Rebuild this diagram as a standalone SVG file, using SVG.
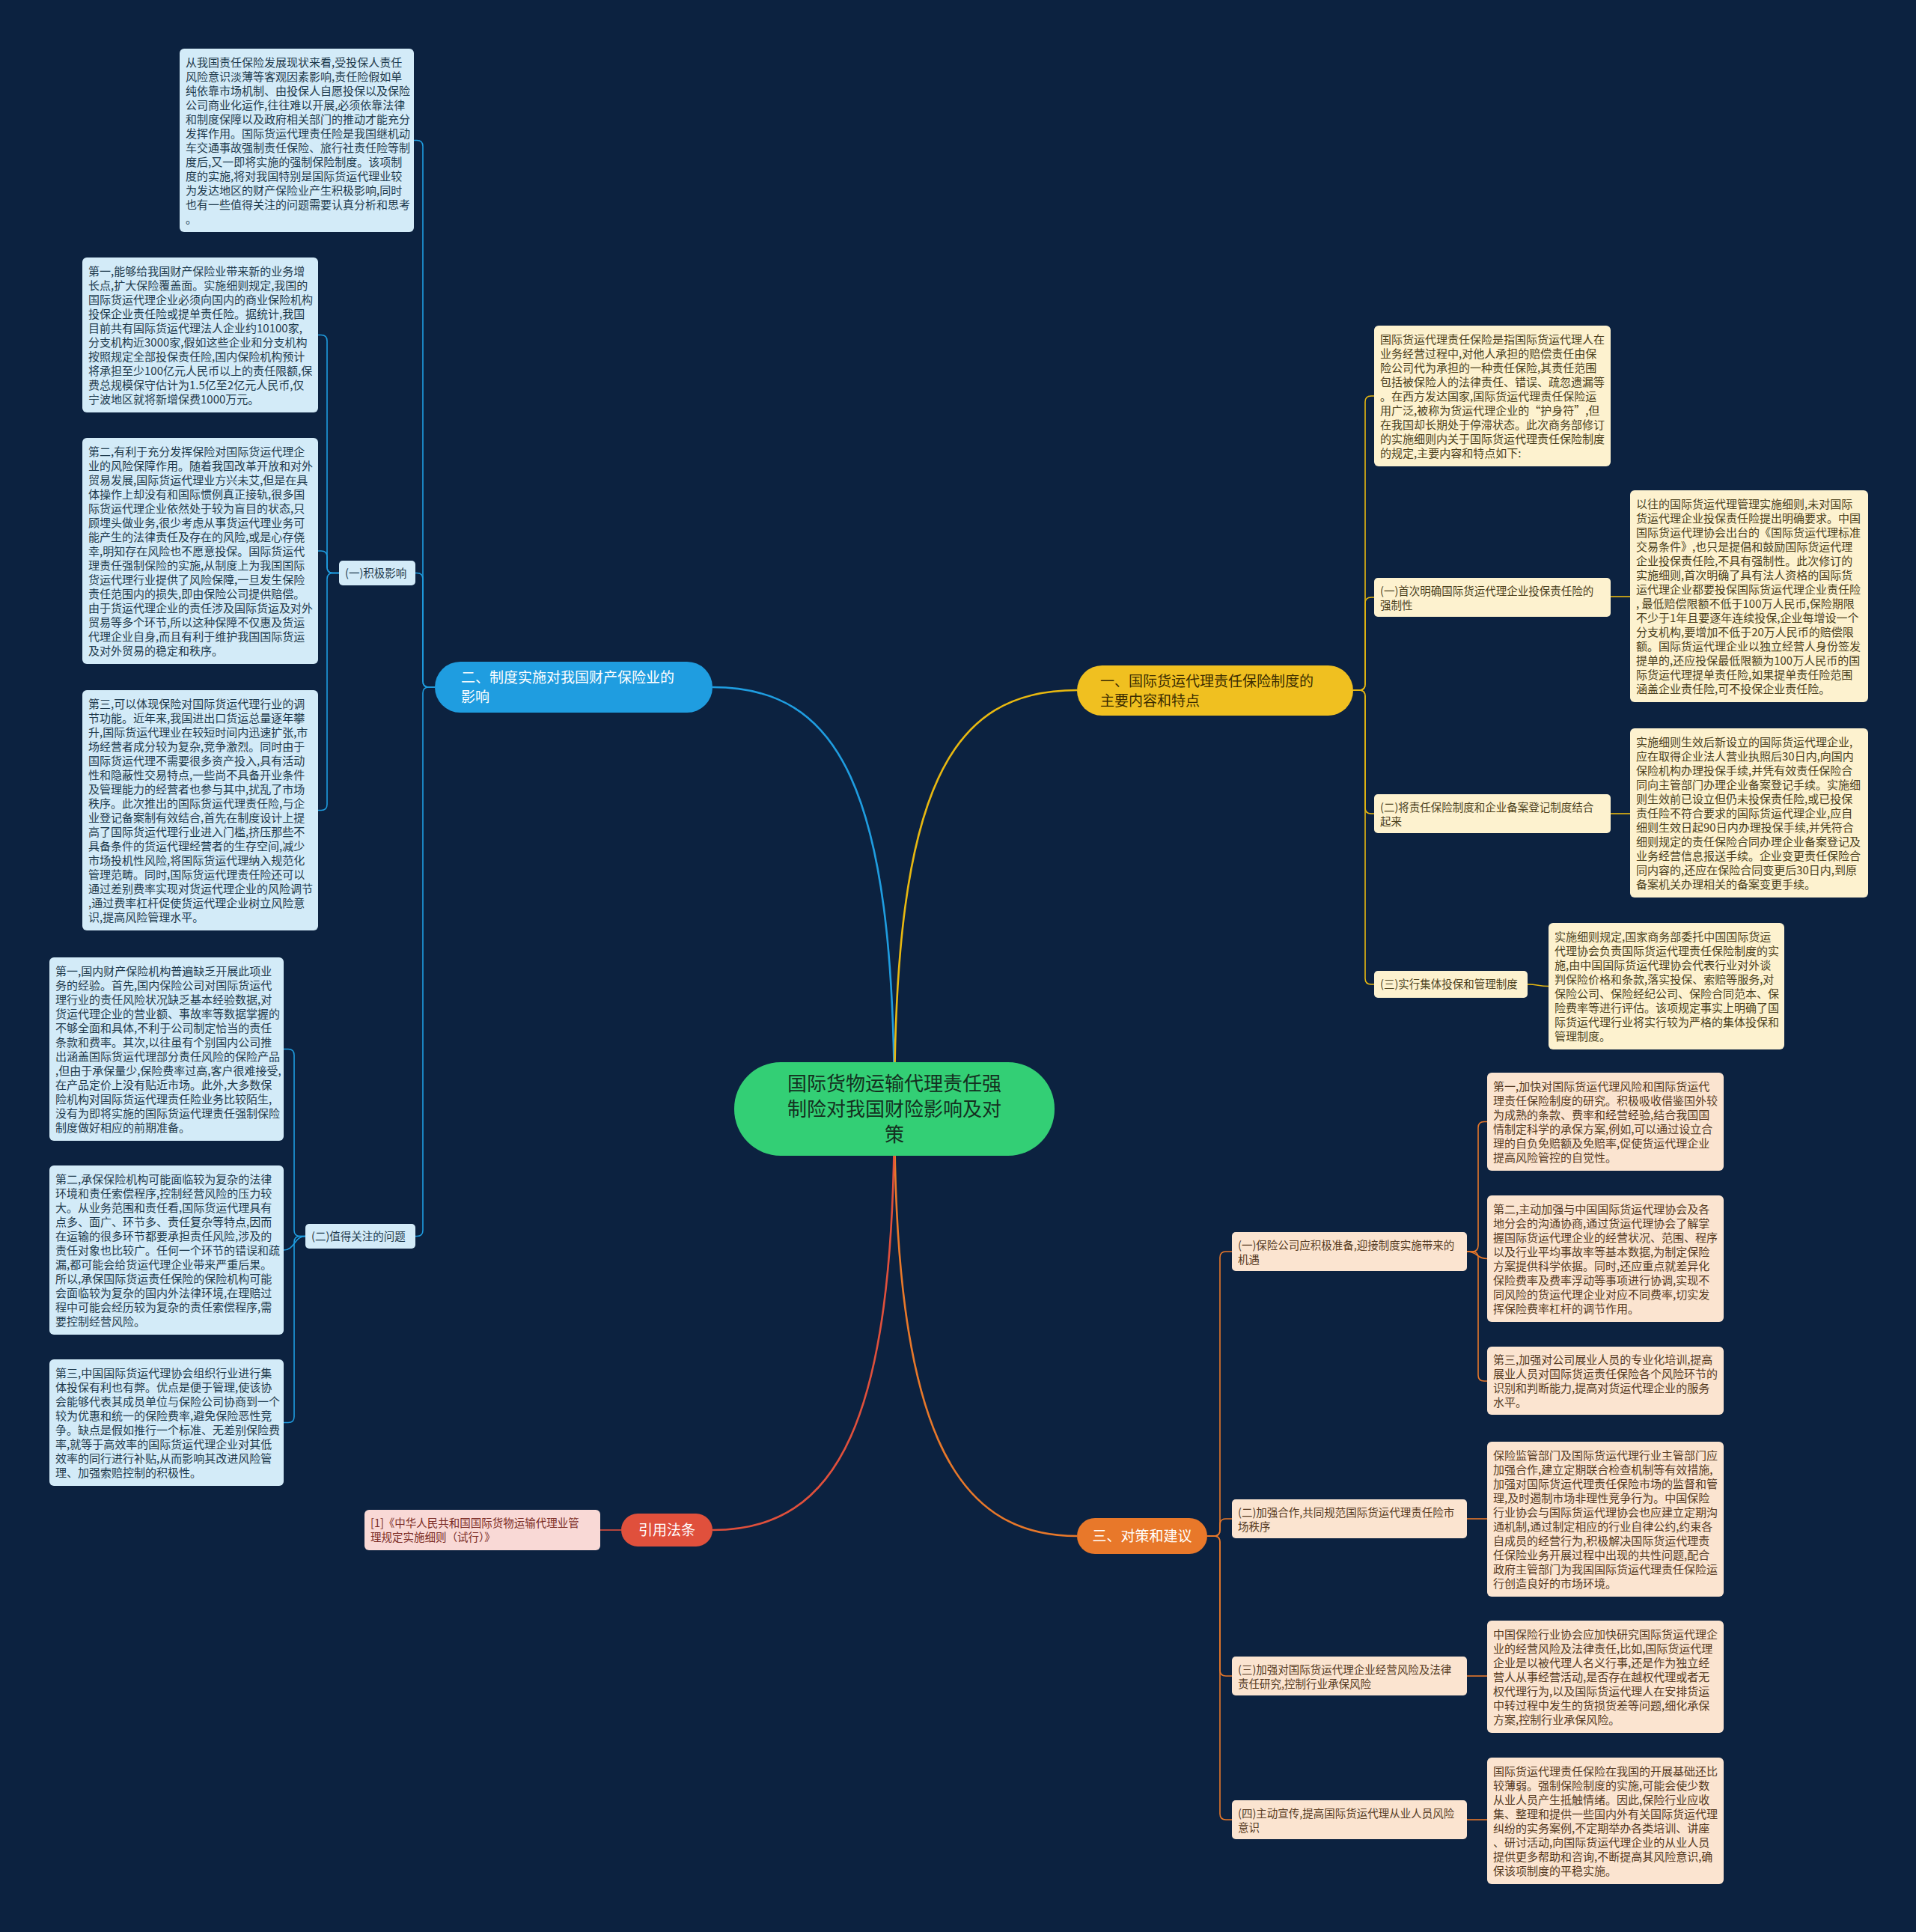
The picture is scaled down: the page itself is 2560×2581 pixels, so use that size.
<svg xmlns="http://www.w3.org/2000/svg" width="2560" height="2581" viewBox="0 0 2560 2581">
<style>
text{font-family:"Noto Sans CJK SC","Noto Sans",sans-serif}
.t{font-size:15px}
.lb{font-size:14.5px}
.bb{fill:#d3ebf8}.tb{fill:#1e3a4c}
.by{fill:#fdf2cf}.ty{fill:#4a3f1c}
.bo{fill:#fbe4d0}.to{fill:#553a22}
.br{fill:#f9d9d6}.tr{fill:#7a2b24}
.e{fill:none;stroke-width:1.6}
.m{fill:none;stroke-width:2.6}
.eb{stroke:#1f9de0}.ey{stroke:#e8b810}.eo{stroke:#e8782a}.er{stroke:#e0503c}
</style>
<rect width="2560" height="2581" fill="#0c2240"/>
<g id="connectors">
<path class="m eb" d="M1195 1481 C1195 1050 1120 918 952 918"/>
<path class="m ey" d="M1195 1481 C1195 1050 1270 922 1439 922"/>
<path class="m eo" d="M1195 1481 C1195 1900 1270 2052 1439 2052"/>
<path class="m er" d="M1195 1481 C1195 1900 1120 2044 952 2044"/>
<path class="e eb" d="M581 918 L573 918 Q565 918 565 910 L565 195.5 Q565 187.5 557 187.5 L553 187.5"/>
<path class="e eb" d="M581 918 L573 918 Q565 918 565 910 L565 773.5 Q565 765.5 557 765.5 L555 765.5"/>
<path class="e eb" d="M581 918 L573 918 Q565 918 565 926 L565 1643.5 Q565 1651.5 557 1651.5 L555 1651.5"/>
<path class="e eb" d="M453 765.5 L445 765.5 Q437 765.5 437 757.5 L437 455.5 Q437 447.5 429 447.5 L425 447.5"/>
<path class="e eb" d="M453 765.5 L445 765.5 Q437 765.5 437 757.5 L437 744 Q437 736 429 736 L425 736"/>
<path class="e eb" d="M453 765.5 L445 765.5 Q437 765.5 437 773.5 L437 1074.5 Q437 1082.5 429 1082.5 L425 1082.5"/>
<path class="e eb" d="M408 1651.5 L401 1651.5 Q393 1651.5 393 1643.5 L393 1409.5 Q393 1401.5 385 1401.5 L379 1401.5"/>
<path class="e eb" d="M408 1651.5 C393 1651.5 394 1670 379 1670"/>
<path class="e eb" d="M408 1651.5 L401 1651.5 Q393 1651.5 393 1659.5 L393 1892.5 Q393 1900.5 385 1900.5 L379 1900.5"/>
<path class="e ey" d="M1808 922 L1816 922 Q1824 922 1824 914 L1824 537 Q1824 529 1832 529 L1836 529"/>
<path class="e ey" d="M1808 922 L1816 922 Q1824 922 1824 914 L1824 806 Q1824 798 1832 798 L1836 798"/>
<path class="e ey" d="M1808 922 L1816 922 Q1824 922 1824 930 L1824 1079 Q1824 1087 1832 1087 L1836 1087"/>
<path class="e ey" d="M1808 922 L1816 922 Q1824 922 1824 930 L1824 1307 Q1824 1315 1832 1315 L1836 1315"/>
<path class="e ey" d="M2152 797 H2178"/>
<path class="e ey" d="M2152 1087 H2178"/>
<path class="e ey" d="M2041 1315 C2055 1315 2055 1317.5 2069 1317.5"/>
<path class="e eo" d="M1613 2052 L1622 2052 Q1630 2052 1630 2044 L1630 1680 Q1630 1672 1638 1672 L1646 1672"/>
<path class="e eo" d="M1613 2052 L1622 2052 Q1630 2052 1630 2044 L1630 2037 Q1630 2029 1638 2029 L1646 2029"/>
<path class="e eo" d="M1613 2052 L1622 2052 Q1630 2052 1630 2060 L1630 2231 Q1630 2239 1638 2239 L1646 2239"/>
<path class="e eo" d="M1613 2052 L1622 2052 Q1630 2052 1630 2060 L1630 2423 Q1630 2431 1638 2431 L1646 2431"/>
<path class="e eo" d="M1960 1672 L1967 1672 Q1975 1672 1975 1664 L1975 1506.5 Q1975 1498.5 1983 1498.5 L1987 1498.5"/>
<path class="e eo" d="M1960 1672 C1975 1672 1972 1681.5 1987 1681.5"/>
<path class="e eo" d="M1960 1672 L1967 1672 Q1975 1672 1975 1680 L1975 1837 Q1975 1845 1983 1845 L1987 1845"/>
<path class="e eo" d="M1960 2029 H1987"/>
<path class="e eo" d="M1960 2239 H1987"/>
<path class="e eo" d="M1960 2431 H1987"/>
<path class="e er" d="M830 2044 H802"/>
</g>
<g id="center">
<rect x="981" y="1419" width="428" height="125" rx="62" fill="#33cf75"/>
<text font-size="26" fill="#14301f" text-anchor="middle"><tspan x="1195" y="1457">国际货物运输代理责任强</tspan><tspan x="1195" y="1491">制险对我国财险影响及对</tspan><tspan x="1195" y="1525">策</tspan></text>
</g>
<g id="branch1">
<rect x="1439" y="889" width="369" height="67" rx="33.5" fill="#f0c020"/>
<text font-size="19" fill="#3b2c00"><tspan x="1470" y="917">一、国际货运代理责任保险制度的</tspan><tspan x="1470" y="943">主要内容和特点</tspan></text>
</g>
<g id="branch2">
<rect x="581" y="884" width="371" height="68" rx="34" fill="#1f9de0"/>
<text font-size="19" fill="#ffffff"><tspan x="616" y="912">二、制度实施对我国财产保险业的</tspan><tspan x="616" y="938">影响</tspan></text>
</g>
<g id="branch3">
<rect x="1439" y="2028" width="174" height="48" rx="24" fill="#e8782a"/>
<text font-size="19" fill="#ffffff" text-anchor="middle" x="1526" y="2059">三、对策和建议</text>
</g>
<g id="branch4">
<rect x="830" y="2022" width="122" height="44" rx="22" fill="#e0503c"/>
<text font-size="19" fill="#ffffff" text-anchor="middle" x="891" y="2051">引用法条</text>
</g>
<g id="ref1">
<rect class="br" x="487" y="2017" width="315" height="54" rx="6"/>
<text class="lb tr"><tspan x="495" y="2040">[1]《中华人民共和国国际货物运输代理业管</tspan><tspan x="495" y="2059">理规定实施细则（试行）》</tspan></text>
</g>
<g id="intro">
<rect class="bb" x="240" y="65" width="313" height="245" rx="6"/>
<text class="t tb"><tspan x="248" y="89">从我国责任保险发展现状来看,受投保人责任</tspan><tspan x="248" y="108">风险意识淡薄等客观因素影响,责任险假如单</tspan><tspan x="248" y="127">纯依靠市场机制、由投保人自愿投保以及保险</tspan><tspan x="248" y="146">公司商业化运作,往往难以开展,必须依靠法律</tspan><tspan x="248" y="165">和制度保障以及政府相关部门的推动才能充分</tspan><tspan x="248" y="184">发挥作用。国际货运代理责任险是我国继机动</tspan><tspan x="248" y="203">车交通事故强制责任保险、旅行社责任险等制</tspan><tspan x="248" y="222">度后,又一即将实施的强制保险制度。该项制</tspan><tspan x="248" y="241">度的实施,将对我国特别是国际货运代理业较</tspan><tspan x="248" y="260">为发达地区的财产保险业产生积极影响,同时</tspan><tspan x="248" y="279">也有一些值得关注的问题需要认真分析和思考</tspan><tspan x="248" y="298">。</tspan></text>
</g>
<g id="pos">
<rect class="bb" x="453" y="749" width="102" height="33" rx="5"/>
<text class="lb tb" x="461" y="771">(一)积极影响</text>
</g>
<g id="pos1">
<rect class="bb" x="110" y="344" width="315" height="207" rx="6"/>
<text class="t tb"><tspan x="118" y="368">第一,能够给我国财产保险业带来新的业务增</tspan><tspan x="118" y="387">长点,扩大保险覆盖面。实施细则规定,我国的</tspan><tspan x="118" y="406">国际货运代理企业必须向国内的商业保险机构</tspan><tspan x="118" y="425">投保企业责任险或提单责任险。据统计,我国</tspan><tspan x="118" y="444">目前共有国际货运代理法人企业约10100家,</tspan><tspan x="118" y="463">分支机构近3000家,假如这些企业和分支机构</tspan><tspan x="118" y="482">按照规定全部投保责任险,国内保险机构预计</tspan><tspan x="118" y="501">将承担至少100亿元人民币以上的责任限额,保</tspan><tspan x="118" y="520">费总规模保守估计为1.5亿至2亿元人民币,仅</tspan><tspan x="118" y="539">宁波地区就将新增保费1000万元。</tspan></text>
</g>
<g id="pos2">
<rect class="bb" x="110" y="585" width="315" height="302" rx="6"/>
<text class="t tb"><tspan x="118" y="609">第二,有利于充分发挥保险对国际货运代理企</tspan><tspan x="118" y="628">业的风险保障作用。随着我国改革开放和对外</tspan><tspan x="118" y="647">贸易发展,国际货运代理业方兴未艾,但是在具</tspan><tspan x="118" y="666">体操作上却没有和国际惯例真正接轨,很多国</tspan><tspan x="118" y="685">际货运代理企业依然处于较为盲目的状态,只</tspan><tspan x="118" y="704">顾埋头做业务,很少考虑从事货运代理业务可</tspan><tspan x="118" y="723">能产生的法律责任及存在的风险,或是心存侥</tspan><tspan x="118" y="742">幸,明知存在风险也不愿意投保。国际货运代</tspan><tspan x="118" y="761">理责任强制保险的实施,从制度上为我国国际</tspan><tspan x="118" y="780">货运代理行业提供了风险保障,一旦发生保险</tspan><tspan x="118" y="799">责任范围内的损失,即由保险公司提供赔偿。</tspan><tspan x="118" y="818">由于货运代理企业的责任涉及国际货运及对外</tspan><tspan x="118" y="837">贸易等多个环节,所以这种保障不仅惠及货运</tspan><tspan x="118" y="856">代理企业自身,而且有利于维护我国国际货运</tspan><tspan x="118" y="875">及对外贸易的稳定和秩序。</tspan></text>
</g>
<g id="pos3">
<rect class="bb" x="110" y="922" width="315" height="321" rx="6"/>
<text class="t tb"><tspan x="118" y="946">第三,可以体现保险对国际货运代理行业的调</tspan><tspan x="118" y="965">节功能。近年来,我国进出口货运总量逐年攀</tspan><tspan x="118" y="984">升,国际货运代理业在较短时间内迅速扩张,市</tspan><tspan x="118" y="1003">场经营者成分较为复杂,竞争激烈。同时由于</tspan><tspan x="118" y="1022">国际货运代理不需要很多资产投入,具有活动</tspan><tspan x="118" y="1041">性和隐蔽性交易特点,一些尚不具备开业条件</tspan><tspan x="118" y="1060">及管理能力的经营者也参与其中,扰乱了市场</tspan><tspan x="118" y="1079">秩序。此次推出的国际货运代理责任险,与企</tspan><tspan x="118" y="1098">业登记备案制有效结合,首先在制度设计上提</tspan><tspan x="118" y="1117">高了国际货运代理行业进入门槛,挤压那些不</tspan><tspan x="118" y="1136">具备条件的货运代理经营者的生存空间,减少</tspan><tspan x="118" y="1155">市场投机性风险,将国际货运代理纳入规范化</tspan><tspan x="118" y="1174">管理范畴。同时,国际货运代理责任险还可以</tspan><tspan x="118" y="1193">通过差别费率实现对货运代理企业的风险调节</tspan><tspan x="118" y="1212">,通过费率杠杆促使货运代理企业树立风险意</tspan><tspan x="118" y="1231">识,提高风险管理水平。</tspan></text>
</g>
<g id="issue">
<rect class="bb" x="408" y="1635" width="147" height="33" rx="5"/>
<text class="lb tb" x="416" y="1657">(二)值得关注的问题</text>
</g>
<g id="issue1">
<rect class="bb" x="66" y="1279" width="313" height="245" rx="6"/>
<text class="t tb"><tspan x="74" y="1303">第一,国内财产保险机构普遍缺乏开展此项业</tspan><tspan x="74" y="1322">务的经验。首先,国内保险公司对国际货运代</tspan><tspan x="74" y="1341">理行业的责任风险状况缺乏基本经验数据,对</tspan><tspan x="74" y="1360">货运代理企业的营业额、事故率等数据掌握的</tspan><tspan x="74" y="1379">不够全面和具体,不利于公司制定恰当的责任</tspan><tspan x="74" y="1398">条款和费率。其次,以往虽有个别国内公司推</tspan><tspan x="74" y="1417">出涵盖国际货运代理部分责任风险的保险产品</tspan><tspan x="74" y="1436">,但由于承保量少,保险费率过高,客户很难接受,</tspan><tspan x="74" y="1455">在产品定价上没有贴近市场。此外,大多数保</tspan><tspan x="74" y="1474">险机构对国际货运代理责任险业务比较陌生,</tspan><tspan x="74" y="1493">没有为即将实施的国际货运代理责任强制保险</tspan><tspan x="74" y="1512">制度做好相应的前期准备。</tspan></text>
</g>
<g id="issue2">
<rect class="bb" x="66" y="1557" width="313" height="226" rx="6"/>
<text class="t tb"><tspan x="74" y="1581">第二,承保保险机构可能面临较为复杂的法律</tspan><tspan x="74" y="1600">环境和责任索偿程序,控制经营风险的压力较</tspan><tspan x="74" y="1619">大。从业务范围和责任看,国际货运代理具有</tspan><tspan x="74" y="1638">点多、面广、环节多、责任复杂等特点,因而</tspan><tspan x="74" y="1657">在运输的很多环节都要承担责任风险,涉及的</tspan><tspan x="74" y="1676">责任对象也比较广。任何一个环节的错误和疏</tspan><tspan x="74" y="1695">漏,都可能会给货运代理企业带来严重后果。</tspan><tspan x="74" y="1714">所以,承保国际货运责任保险的保险机构可能</tspan><tspan x="74" y="1733">会面临较为复杂的国内外法律环境,在理赔过</tspan><tspan x="74" y="1752">程中可能会经历较为复杂的责任索偿程序,需</tspan><tspan x="74" y="1771">要控制经营风险。</tspan></text>
</g>
<g id="issue3">
<rect class="bb" x="66" y="1816" width="313" height="169" rx="6"/>
<text class="t tb"><tspan x="74" y="1840">第三,中国国际货运代理协会组织行业进行集</tspan><tspan x="74" y="1859">体投保有利也有弊。优点是便于管理,使该协</tspan><tspan x="74" y="1878">会能够代表其成员单位与保险公司协商到一个</tspan><tspan x="74" y="1897">较为优惠和统一的保险费率,避免保险恶性竞</tspan><tspan x="74" y="1916">争。缺点是假如推行一个标准、无差别保险费</tspan><tspan x="74" y="1935">率,就等于高效率的国际货运代理企业对其低</tspan><tspan x="74" y="1954">效率的同行进行补贴,从而影响其改进风险管</tspan><tspan x="74" y="1973">理、加强索赔控制的积极性。</tspan></text>
</g>
<g id="def">
<rect class="by" x="1836" y="435" width="316" height="188" rx="6"/>
<text class="t ty"><tspan x="1844" y="459">国际货运代理责任保险是指国际货运代理人在</tspan><tspan x="1844" y="478">业务经营过程中,对他人承担的赔偿责任由保</tspan><tspan x="1844" y="497">险公司代为承担的一种责任保险,其责任范围</tspan><tspan x="1844" y="516">包括被保险人的法律责任、错误、疏忽遗漏等</tspan><tspan x="1844" y="535">。在西方发达国家,国际货运代理责任保险运</tspan><tspan x="1844" y="554">用广泛,被称为货运代理企业的“护身符”,但</tspan><tspan x="1844" y="573">在我国却长期处于停滞状态。此次商务部修订</tspan><tspan x="1844" y="592">的实施细则内关于国际货运代理责任保险制度</tspan><tspan x="1844" y="611">的规定,主要内容和特点如下:</tspan></text>
</g>
<g id="feat1">
<rect class="by" x="1836" y="772" width="316" height="52" rx="5"/>
<text class="lb ty"><tspan x="1844" y="794.5">(一)首次明确国际货运代理企业投保责任险的</tspan><tspan x="1844" y="813.5">强制性</tspan></text>
</g>
<g id="feat1d">
<rect class="by" x="2178" y="655" width="318" height="283" rx="6"/>
<text class="t ty"><tspan x="2186" y="679">以往的国际货运代理管理实施细则,未对国际</tspan><tspan x="2186" y="698">货运代理企业投保责任险提出明确要求。中国</tspan><tspan x="2186" y="717">国际货运代理协会出台的《国际货运代理标准</tspan><tspan x="2186" y="736">交易条件》,也只是提倡和鼓励国际货运代理</tspan><tspan x="2186" y="755">企业投保责任险,不具有强制性。此次修订的</tspan><tspan x="2186" y="774">实施细则,首次明确了具有法人资格的国际货</tspan><tspan x="2186" y="793">运代理企业都要投保国际货运代理企业责任险</tspan><tspan x="2186" y="812">, 最低赔偿限额不低于100万人民币,保险期限</tspan><tspan x="2186" y="831">不少于1年且要逐年连续投保,企业每增设一个</tspan><tspan x="2186" y="850">分支机构,要增加不低于20万人民币的赔偿限</tspan><tspan x="2186" y="869">额。国际货运代理企业以独立经营人身份签发</tspan><tspan x="2186" y="888">提单的,还应投保最低限额为100万人民币的国</tspan><tspan x="2186" y="907">际货运代理提单责任险,如果提单责任险范围</tspan><tspan x="2186" y="926">涵盖企业责任险,可不投保企业责任险。</tspan></text>
</g>
<g id="feat2">
<rect class="by" x="1836" y="1061" width="316" height="52" rx="5"/>
<text class="lb ty"><tspan x="1844" y="1083.5">(二)将责任保险制度和企业备案登记制度结合</tspan><tspan x="1844" y="1102.5">起来</tspan></text>
</g>
<g id="feat2d">
<rect class="by" x="2178" y="973" width="318" height="226" rx="6"/>
<text class="t ty"><tspan x="2186" y="997">实施细则生效后新设立的国际货运代理企业,</tspan><tspan x="2186" y="1016">应在取得企业法人营业执照后30日内,向国内</tspan><tspan x="2186" y="1035">保险机构办理投保手续,并凭有效责任保险合</tspan><tspan x="2186" y="1054">同向主管部门办理企业备案登记手续。实施细</tspan><tspan x="2186" y="1073">则生效前已设立但仍未投保责任险,或已投保</tspan><tspan x="2186" y="1092">责任险不符合要求的国际货运代理企业,应自</tspan><tspan x="2186" y="1111">细则生效日起90日内办理投保手续,并凭符合</tspan><tspan x="2186" y="1130">细则规定的责任保险合同办理企业备案登记及</tspan><tspan x="2186" y="1149">业务经营信息报送手续。企业变更责任保险合</tspan><tspan x="2186" y="1168">同内容的,还应在保险合同变更后30日内,到原</tspan><tspan x="2186" y="1187">备案机关办理相关的备案变更手续。</tspan></text>
</g>
<g id="feat3">
<rect class="by" x="1836" y="1297" width="205" height="36" rx="5"/>
<text class="lb ty" x="1844" y="1320">(三)实行集体投保和管理制度</text>
</g>
<g id="feat3d">
<rect class="by" x="2069" y="1233" width="315" height="169" rx="6"/>
<text class="t ty"><tspan x="2077" y="1257">实施细则规定,国家商务部委托中国国际货运</tspan><tspan x="2077" y="1276">代理协会负责国际货运代理责任保险制度的实</tspan><tspan x="2077" y="1295">施,由中国国际货运代理协会代表行业对外谈</tspan><tspan x="2077" y="1314">判保险价格和条款,落实投保、索赔等服务,对</tspan><tspan x="2077" y="1333">保险公司、保险经纪公司、保险合同范本、保</tspan><tspan x="2077" y="1352">险费率等进行评估。该项规定事实上明确了国</tspan><tspan x="2077" y="1371">际货运代理行业将实行较为严格的集体投保和</tspan><tspan x="2077" y="1390">管理制度。</tspan></text>
</g>
<g id="sug1">
<rect class="bo" x="1646" y="1646" width="314" height="52" rx="5"/>
<text class="lb to"><tspan x="1654" y="1668.5">(一)保险公司应积极准备,迎接制度实施带来的</tspan><tspan x="1654" y="1687.5">机遇</tspan></text>
</g>
<g id="sug1a">
<rect class="bo" x="1987" y="1433" width="316" height="131" rx="6"/>
<text class="t to"><tspan x="1995" y="1457">第一,加快对国际货运代理风险和国际货运代</tspan><tspan x="1995" y="1476">理责任保险制度的研究。积极吸收借鉴国外较</tspan><tspan x="1995" y="1495">为成熟的条款、费率和经营经验,结合我国国</tspan><tspan x="1995" y="1514">情制定科学的承保方案,例如,可以通过设立合</tspan><tspan x="1995" y="1533">理的自负免赔额及免赔率,促使货运代理企业</tspan><tspan x="1995" y="1552">提高风险管控的自觉性。</tspan></text>
</g>
<g id="sug1b">
<rect class="bo" x="1987" y="1597" width="316" height="169" rx="6"/>
<text class="t to"><tspan x="1995" y="1621">第二,主动加强与中国国际货运代理协会及各</tspan><tspan x="1995" y="1640">地分会的沟通协商,通过货运代理协会了解掌</tspan><tspan x="1995" y="1659">握国际货运代理企业的经营状况、范围、程序</tspan><tspan x="1995" y="1678">以及行业平均事故率等基本数据,为制定保险</tspan><tspan x="1995" y="1697">方案提供科学依据。同时,还应重点就差异化</tspan><tspan x="1995" y="1716">保险费率及费率浮动等事项进行协调,实现不</tspan><tspan x="1995" y="1735">同风险的货运代理企业对应不同费率,切实发</tspan><tspan x="1995" y="1754">挥保险费率杠杆的调节作用。</tspan></text>
</g>
<g id="sug1c">
<rect class="bo" x="1987" y="1799" width="316" height="91" rx="6"/>
<text class="t to"><tspan x="1995" y="1822">第三,加强对公司展业人员的专业化培训,提高</tspan><tspan x="1995" y="1841">展业人员对国际货运责任保险各个风险环节的</tspan><tspan x="1995" y="1860">识别和判断能力,提高对货运代理企业的服务</tspan><tspan x="1995" y="1879">水平。</tspan></text>
</g>
<g id="sug2">
<rect class="bo" x="1646" y="2003" width="314" height="52" rx="5"/>
<text class="lb to"><tspan x="1654" y="2025.5">(二)加强合作,共同规范国际货运代理责任险市</tspan><tspan x="1654" y="2044.5">场秩序</tspan></text>
</g>
<g id="sug2a">
<rect class="bo" x="1987" y="1926" width="316" height="207" rx="6"/>
<text class="t to"><tspan x="1995" y="1950">保险监管部门及国际货运代理行业主管部门应</tspan><tspan x="1995" y="1969">加强合作,建立定期联合检查机制等有效措施,</tspan><tspan x="1995" y="1988">加强对国际货运代理责任保险市场的监督和管</tspan><tspan x="1995" y="2007">理,及时遏制市场非理性竞争行为。中国保险</tspan><tspan x="1995" y="2026">行业协会与国际货运代理协会也应建立定期沟</tspan><tspan x="1995" y="2045">通机制,通过制定相应的行业自律公约,约束各</tspan><tspan x="1995" y="2064">自成员的经营行为,积极解决国际货运代理责</tspan><tspan x="1995" y="2083">任保险业务开展过程中出现的共性问题,配合</tspan><tspan x="1995" y="2102">政府主管部门为我国国际货运代理责任保险运</tspan><tspan x="1995" y="2121">行创造良好的市场环境。</tspan></text>
</g>
<g id="sug3">
<rect class="bo" x="1646" y="2213" width="314" height="52" rx="5"/>
<text class="lb to"><tspan x="1654" y="2235.5">(三)加强对国际货运代理企业经营风险及法律</tspan><tspan x="1654" y="2254.5">责任研究,控制行业承保风险</tspan></text>
</g>
<g id="sug3a">
<rect class="bo" x="1987" y="2165" width="316" height="150" rx="6"/>
<text class="t to"><tspan x="1995" y="2189">中国保险行业协会应加快研究国际货运代理企</tspan><tspan x="1995" y="2208">业的经营风险及法律责任,比如,国际货运代理</tspan><tspan x="1995" y="2227">企业是以被代理人名义行事,还是作为独立经</tspan><tspan x="1995" y="2246">营人从事经营活动,是否存在越权代理或者无</tspan><tspan x="1995" y="2265">权代理行为,以及国际货运代理人在安排货运</tspan><tspan x="1995" y="2284">中转过程中发生的货损货差等问题,细化承保</tspan><tspan x="1995" y="2303">方案,控制行业承保风险。</tspan></text>
</g>
<g id="sug4">
<rect class="bo" x="1646" y="2405" width="314" height="52" rx="5"/>
<text class="lb to"><tspan x="1654" y="2427.5">(四)主动宣传,提高国际货运代理从业人员风险</tspan><tspan x="1654" y="2446.5">意识</tspan></text>
</g>
<g id="sug4a">
<rect class="bo" x="1987" y="2348" width="316" height="169" rx="6"/>
<text class="t to"><tspan x="1995" y="2372">国际货运代理责任保险在我国的开展基础还比</tspan><tspan x="1995" y="2391">较薄弱。强制保险制度的实施,可能会使少数</tspan><tspan x="1995" y="2410">从业人员产生抵触情绪。因此,保险行业应收</tspan><tspan x="1995" y="2429">集、整理和提供一些国内外有关国际货运代理</tspan><tspan x="1995" y="2448">纠纷的实务案例,不定期举办各类培训、讲座</tspan><tspan x="1995" y="2467">、研讨活动,向国际货运代理企业的从业人员</tspan><tspan x="1995" y="2486">提供更多帮助和咨询,不断提高其风险意识,确</tspan><tspan x="1995" y="2505">保该项制度的平稳实施。</tspan></text>
</g>
</svg>
